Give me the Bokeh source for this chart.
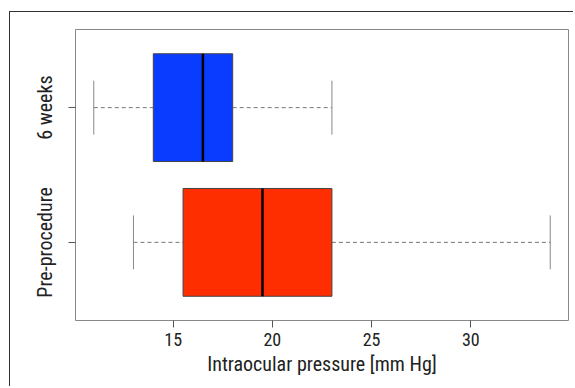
from bokeh.plotting import figure
from bokeh.models import Range1d, FixedTicker, ColumnDataSource
from bokeh.embed import file_html
from bokeh.resources import INLINE

# Data
categories = ["Pre-procedure", "6 weeks"]
positions = [1, 2]
lower_whisker = [13, 11]
q1 = [15.5, 14]
median = [19.5, 16.5]
q3 = [23, 18]
upper_whisker = [34, 23]
colors = ["#FF2E00", "#0A3CFF"]
x_ticks = [15, 20, 25, 30]

FONT = "Roboto Condensed"

p = figure(width=564, height=375, output_backend="svg", toolbar_location=None,
           x_range=Range1d(10.08, 34.92), y_range=Range1d(0.42, 2.58),
           min_border_left=65, min_border_right=6, min_border_top=17, min_border_bottom=67)
p.styles = {"margin-left": "9px", "margin-top": "11px",
            "border-left": "1.5px solid #333333", "border-top": "1.5px solid #333333"}
p.xgrid.visible = False
p.ygrid.visible = False
p.outline_line_color = "#888888"
p.outline_line_width = 1

bw = 0.8
src = ColumnDataSource(dict(y=positions, q1=q1, q3=q3, med=median, lo=lower_whisker,
                            hi=upper_whisker, color=colors,
                            ylo=[v - bw / 2 for v in positions], yhi=[v + bw / 2 for v in positions],
                            clo=[v - bw / 4 for v in positions], chi=[v + bw / 4 for v in positions]))

# whiskers
p.segment(x0="lo", x1="q1", y0="y", y1="y", source=src, line_color="#777777", line_dash="4 3", line_width=1)
p.segment(x0="q3", x1="hi", y0="y", y1="y", source=src, line_color="#777777", line_dash="4 3", line_width=1)
# caps
p.segment(x0="lo", x1="lo", y0="clo", y1="chi", source=src, line_color="#888888", line_width=1)
p.segment(x0="hi", x1="hi", y0="clo", y1="chi", source=src, line_color="#888888", line_width=1)
# boxes
p.quad(left="q1", right="q3", bottom="ylo", top="yhi", source=src, fill_color="color",
       line_color="#444444", line_width=1)
# medians
p.segment(x0="med", x1="med", y0="ylo", y1="yhi", source=src, line_color="black", line_width=2.5)

# axes
p.xaxis.ticker = FixedTicker(ticks=x_ticks)
p.xaxis.axis_line_color = None
p.xaxis.major_tick_line_color = "#555555"
p.xaxis.major_tick_in = 0
p.xaxis.major_tick_out = 7
p.xaxis.minor_tick_line_color = None
p.xaxis.major_label_text_font = FONT
p.xaxis.major_label_text_font_size = "18px"
p.xaxis.major_label_text_color = "#222222"
p.xaxis.major_label_standoff = 5
p.xaxis.axis_label = "Intraocular pressure [mm Hg]"
p.xaxis.axis_label_text_font = FONT
p.xaxis.axis_label_text_font_size = "20px"
p.xaxis.axis_label_text_font_style = "normal"
p.xaxis.axis_label_text_color = "#222222"
p.xaxis.axis_label_standoff = 3

p.yaxis.ticker = FixedTicker(ticks=positions)
p.yaxis.major_label_overrides = {pos: cat for pos, cat in zip(positions, categories)}
p.yaxis.major_label_orientation = "parallel"
p.yaxis.axis_line_color = None
p.yaxis.major_tick_line_color = "#555555"
p.yaxis.major_tick_in = 0
p.yaxis.major_tick_out = 7
p.yaxis.minor_tick_line_color = None
p.yaxis.major_label_text_font = FONT
p.yaxis.major_label_text_font_size = "20px"
p.yaxis.major_label_text_color = "#222222"
p.yaxis.major_label_standoff = 11

open("out.html", "w").write(file_html(p, INLINE))
